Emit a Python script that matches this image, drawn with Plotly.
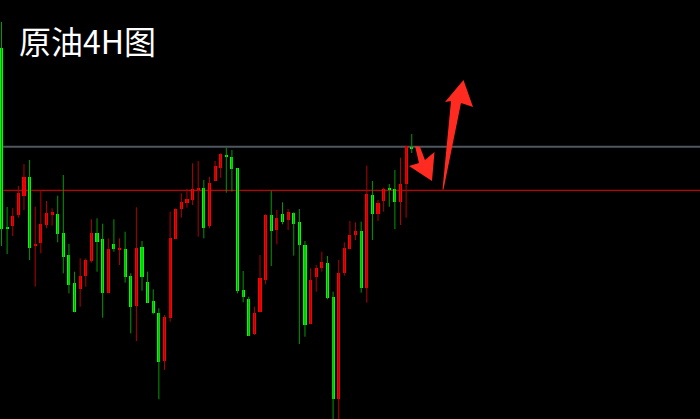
import plotly.graph_objects as go

# Candle data (price units), index = bar number
opens = [452, 272.2, 274.3, 285, 304.3, 322.7, 253.7, 257.3, 275, 285,
         286.3, 267.3, 245, 216.7, 210.7, 224, 239.3, 267.3, 261, 207.3,
         256, 250.3, 251, 224, 194.3, 252.7, 218.3, 199.3, 187.3, 139.3,
         181.7, 261, 291, 297.3, 300.3, 310.3, 311.7, 274.3, 319.3, 331.7,
         345, 343, 331.7, 210, 201, 165.7, 187.7, 220, 285.3, 270,
         285.7, 280, 286.7, 277.7, 255, 175.7, 223.3, 231.7, 237.3, 202.7,
         101, 227.3, 250.7, 265, 269, 211.7, 305, 286, 299.3, 311,
         310.7, 297.7, 316, 353]
highs = [478, 293, 292, 314, 336, 340, 293.3, 310, 299, 291.7,
         304.3, 325, 256, 228.3, 241.7, 241.7, 280.7, 281.7, 276.3, 261.7,
         280.7, 261.7, 268.3, 226.7, 292.7, 259, 228.3, 210.7, 191.7, 185,
         288.3, 291.7, 306.7, 311, 336.7, 339, 320, 323.3, 339, 346.7,
         352.3, 350, 331.7, 229, 203.3, 193.3, 245, 285.7, 309.3, 290,
         297.7, 291, 287.7, 291, 259, 231.7, 235, 248.3, 244, 208.3,
         240, 257.7, 279, 277.7, 278.3, 334.3, 319, 300, 312.3, 316,
         330, 342.3, 354.3, 366]
lows = [254, 246, 264, 282.3, 290, 240, 213.3, 246.7, 271.7, 274.3,
        257.7, 226.7, 206.7, 187.7, 193.3, 213.3, 237.3, 228.3, 182.3, 207.3,
        248.3, 235, 217.3, 166.7, 159, 209.3, 197.3, 185.7, 100.7, 130,
        178.3, 261, 282.3, 292.3, 295, 263.3, 261.7, 271.7, 319.3, 322.3,
        307.3, 308.3, 206.7, 197.7, 164, 165, 187.7, 215.7, 234, 255.7,
        275.7, 270, 244.3, 156, 163.3, 175.7, 208.3, 228.3, 200.7, 79,
        79, 224.3, 250.7, 260, 207.3, 197.3, 260, 279, 288.3, 293.3,
        271, 275, 282.3, 347]
closes = [271, 271.2, 284.3, 307, 323.3, 252.3, 256, 276, 287.3, 287.7,
          265.7, 243.3, 215, 187.7, 224, 240, 267.3, 258.3, 207.3, 251,
          251, 252, 222.7, 193.3, 251.7, 222.7, 197.3, 187.3, 138.3, 182.7,
          261.7, 291, 297.7, 301, 311, 312.3, 272.3, 317, 334, 345.7,
          343.3, 331, 209.3, 203, 164, 187.3, 221.7, 285, 269, 281.7,
          278.3, 287.7, 275.7, 255, 175, 220, 232.3, 238.3, 201.7, 101,
          226.7, 252.3, 265, 269, 211.7, 305.7, 285.7, 297.3, 310.7, 310,
          297.7, 316, 354.3, 351.5]

resistance_level = 353.3
support_level = 309.7
title_text = "原油4H图"

UP_BODY, DOWN_BODY = "#ff0000", "#00ff00"
UP_WICK, DOWN_WICK = "#b00000", "#009a00"

idx = list(range(len(opens)))
up = [c >= o for o, c in zip(opens, closes)]

fig = go.Figure()

# wicks
for flag, col in ((True, UP_WICK), (False, DOWN_WICK)):
    xs, ys = [], []
    for i in idx:
        if up[i] == flag:
            xs += [i, i, None]
            ys += [highs[i], lows[i], None]
    fig.add_trace(go.Scatter(x=xs, y=ys, mode="lines",
                             line=dict(color=col, width=1),
                             hoverinfo="skip", showlegend=False))

# bodies
bases = [min(o, c) for o, c in zip(opens, closes)]
heights = [max(abs(c - o), 1.2) for o, c in zip(opens, closes)]
fig.add_trace(go.Bar(x=idx, y=heights, base=bases, width=0.55,
                     marker=dict(color=[UP_BODY if u else DOWN_BODY for u in up],
                                 line=dict(width=0)),
                     showlegend=False))

W, H = 700, 419


def px_path(points):
    s = ""
    for k, (px, py) in enumerate(points):
        s += ("M" if k == 0 else "L") + f"{px / W:.5f},{1 - py / H:.5f} "
    return s + "Z"


shapes = [
    dict(type="line", xref="paper", x0=0, x1=1, yref="y",
         y0=resistance_level, y1=resistance_level,
         line=dict(color="#4e5660", width=2), layer="below"),
    dict(type="line", xref="paper", x0=0, x1=1, yref="y",
         y0=support_level, y1=support_level,
         line=dict(color="#c00000", width=1.3), layer="below"),
    dict(type="path", xref="paper", yref="paper",
         path=px_path([(415, 146), (420, 147), (425, 160), (434.5, 152),
                       (432, 181), (409, 166), (419, 163)]),
         fillcolor="#ff2a20", line=dict(width=0)),
    dict(type="path", xref="paper", yref="paper",
         path=px_path([(442.5, 189.5), (451, 101), (445, 102), (463.5, 80),
                       (473, 107), (461, 103), (443.5, 189.5)]),
         fillcolor="#ff2a20", line=dict(width=0)),
]

fig.update_layout(
    width=W, height=H,
    margin=dict(l=0, r=0, t=0, b=0),
    paper_bgcolor="black", plot_bgcolor="black",
    xaxis=dict(range=[-0.267, 124.29], visible=False, fixedrange=True),
    yaxis=dict(range=[81, 500], visible=False, fixedrange=True),
    bargap=0, showlegend=False,
    shapes=shapes,
    annotations=[dict(text=title_text, xref="paper", yref="paper",
                      x=17 / W, y=1 - 40 / H, xanchor="left", yanchor="middle",
                      showarrow=False,
                      font=dict(family="Noto Sans CJK SC", size=32, color="white"))],
)

fig.write_html("out.html",
               config={"displayModeBar": False},
               post_script="document.body.style.margin='0';"
                           "document.body.style.padding='0';"
                           "document.body.style.background='black';")
